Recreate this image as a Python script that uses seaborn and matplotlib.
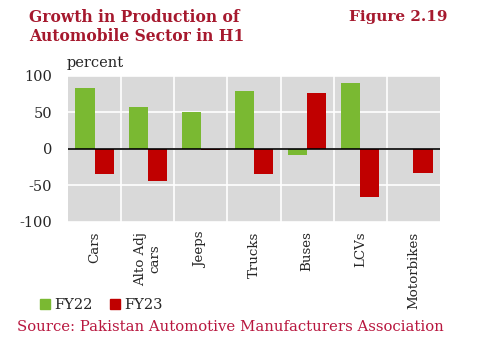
import numpy as np
import pandas as pd
import matplotlib
matplotlib.use('Agg')
import matplotlib.pyplot as plt
import matplotlib.patches as mpatches
import seaborn as sns

# data
categories = ['Cars', 'Alto Adj\ncars', 'Jeeps', 'Trucks', 'Buses', 'LCVs', 'Motorbikes']
fy22 = [84, 57, 50, 79, -9, 91, 0]
fy23 = [-34, -44, -2, -34, 77, -66, -33]
years = ['FY22', 'FY23']
yticks = [-100, -50, 0, 50, 100]

green = '#7AB932'
red = '#C00000'
title_col = '#A6192E'
source_col = '#B8173F'

df = pd.DataFrame({
    'category': categories * 2,
    'year': ['FY22'] * len(categories) + ['FY23'] * len(categories),
    'value': fy22 + fy23,
})

sns.set_style('darkgrid', {'axes.facecolor': '#D9D9D9', 'grid.color': 'white'})
plt.rcParams['font.family'] = ['DejaVu Serif']

fig = plt.figure(figsize=(4.96, 3.5), dpi=100)
ax = fig.add_axes([0.137, 0.366, 0.75, 0.417])

sns.barplot(data=df, x='category', y='value', hue='year', hue_order=years,
            palette=[green, red], width=0.72, saturation=1, ax=ax, legend=False,
            linewidth=0, edgecolor='none')

ax.set_ylim(-100, 100)
ax.set_xlim(-0.5, len(categories) - 0.5)
ax.set_yticks(yticks)
ax.set_yticklabels([str(t) for t in yticks], fontsize=10.5)
# vertical grid lines sit between categories
ax.set_xticks(np.arange(len(categories) - 1) + 0.5, minor=True)
ax.xaxis.grid(False, which='major')
ax.xaxis.grid(True, which='minor', color='white', lw=1.2)
ax.yaxis.grid(True, color='white', lw=1.2)
ax.set_axisbelow(True)
ax.tick_params(axis='x', which='both', length=0, pad=7)
ax.tick_params(axis='y', length=0, pad=11.5)
ax.set_xticks(range(len(categories)))
ax.set_xticklabels(categories, rotation=90, fontsize=9.6, va='top', ha='center')
ax.axhline(0, color='black', lw=1.2)
ax.set_xlabel('')
ax.set_ylabel('')
for s in ax.spines.values():
    s.set_visible(False)

fig.text(0.059, 0.975, 'Growth in Production of\nAutomobile Sector in H1', color=title_col,
         fontsize=11.2, fontweight='bold', va='top', ha='left', linespacing=1.2)
fig.text(0.902, 0.97, 'Figure 2.19', color=title_col, fontsize=11, fontweight='bold',
         va='top', ha='right')
fig.text(0.135, 0.809, 'percent', fontsize=10.5, ha='left', va='baseline')

handles = [mpatches.Patch(color=green, label='FY22'), mpatches.Patch(color=red, label='FY23')]
fig.legend(handles=handles, loc='center left', bbox_to_anchor=(0.08, 0.129), ncol=2,
           frameon=False, fontsize=10.5, handlelength=0.7, handleheight=0.7,
           handletextpad=0.3, columnspacing=1.2, borderaxespad=0, borderpad=0)

fig.text(0.034, 0.066, 'Source: Pakistan Automotive Manufacturers Association', color=source_col,
         fontsize=10.7, ha='left', va='center')

fig.savefig('out.png', dpi=100)
